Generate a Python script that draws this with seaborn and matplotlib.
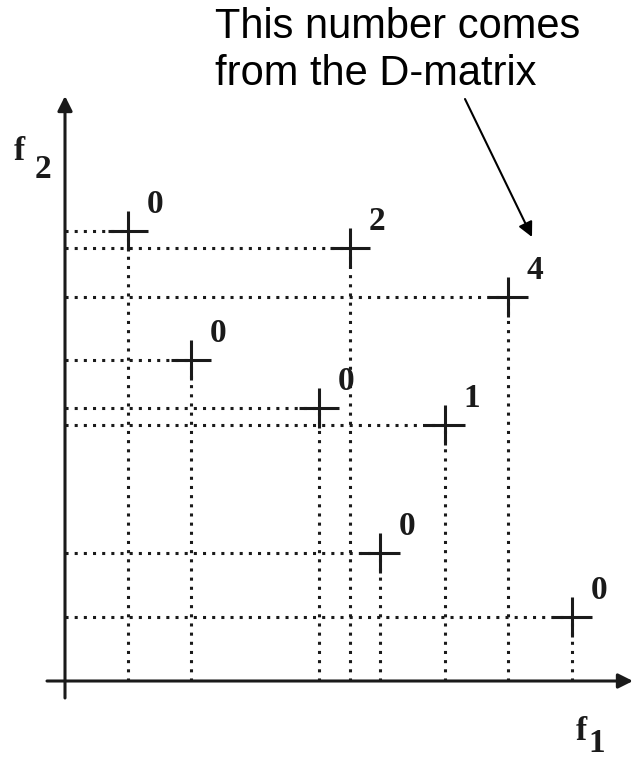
"""Pareto-style sketch: points in (f1, f2) with their D-matrix counts."""

import matplotlib.pyplot as plt
import pandas as pd
import seaborn as sns

# point positions in objective space (arbitrary units) and their counts
F1 = [1.25, 5.7, 8.86, 2.52, 5.08, 7.6, 6.3, 10.14]
F2 = [9.0, 8.66, 7.68, 6.42, 5.46, 5.12, 2.56, 1.28]
COUNTS = [0, 2, 4, 0, 0, 1, 0, 0]

NOTE_LINES = ["This number comes", "from the D-matrix"]
HIGHLIGHT = 2  # index of the point the note arrow is aimed at

INK = "#1a1a1a"
SERIF = ["Liberation Serif", "DejaVu Serif"]
SANS = ["Liberation Sans", "DejaVu Sans"]


def main() -> None:
    sns.set_theme(style="white")
    plt.rcParams["font.family"] = SANS

    df = pd.DataFrame({"f1": F1, "f2": F2, "count": COUNTS})

    fig = plt.figure(figsize=(6.34, 7.61), dpi=100)
    ax = fig.add_axes([0, 0, 1, 1])
    ax.set_xlim(-1.3, 11.38)
    ax.set_ylim(-1.6, 13.62)
    ax.axis("off")

    # dotted projections onto both axes
    dots = (0, (1, 2.0))
    for x, y in zip(df["f1"], df["f2"]):
        ax.plot([0, x], [y, y], color=INK, lw=2.2, ls=dots, zorder=1)
        ax.plot([x, x], [0, y], color=INK, lw=2.2, ls=dots, zorder=1)

    sns.scatterplot(data=df, x="f1", y="f2", marker="+", s=820,
                    color=INK, linewidth=2.2, ax=ax, zorder=3, legend=False)

    for x, y, c in zip(df["f1"], df["f2"], df["count"]):
        ax.annotate(str(c), (x, y), xytext=(19.5, 19), textcoords="offset points",
                    ha="center", va="center", fontsize=24, family=SERIF,
                    fontweight="bold", color=INK)

    # axes with arrow heads
    ax.annotate("", xy=(0, 11.7), xytext=(0, -0.34),
                arrowprops=dict(arrowstyle="-|>", color=INK, lw=2.2,
                                mutation_scale=22, shrinkA=0, shrinkB=0))
    ax.annotate("", xy=(11.36, 0), xytext=(-0.36, 0),
                arrowprops=dict(arrowstyle="-|>", color=INK, lw=2.2,
                                mutation_scale=22, shrinkA=0, shrinkB=0))

    ax.text(-0.92, 10.58, "f", fontsize=24, family=SERIF, fontweight="bold",
            color=INK, ha="center", va="center")
    ax.text(-0.44, 10.24, "2", fontsize=24, family=SERIF, fontweight="bold",
            color=INK, ha="center", va="center")
    ax.text(10.32, -1.0, "f", fontsize=24, family=SERIF, fontweight="bold",
            color=INK, ha="center", va="center")
    ax.text(10.64, -1.26, "1", fontsize=24, family=SERIF, fontweight="bold",
            color=INK, ha="center", va="center")

    # the callout
    ax.text(3.0, 12.86, NOTE_LINES[0], fontsize=30, color="black", va="baseline")
    ax.text(3.0, 11.92, NOTE_LINES[1], fontsize=30, color="black", va="baseline")
    tip = (df["f1"][HIGHLIGHT] + 0.48, df["f2"][HIGHLIGHT] + 1.2)
    ax.annotate("", xy=tip, xytext=(8.0, 11.64),
                arrowprops=dict(arrowstyle="-|>", color="black", lw=1.5,
                                mutation_scale=22, shrinkA=0, shrinkB=0))

    fig.savefig("out.png", dpi=100)
    plt.close(fig)


if __name__ == "__main__":
    main()
